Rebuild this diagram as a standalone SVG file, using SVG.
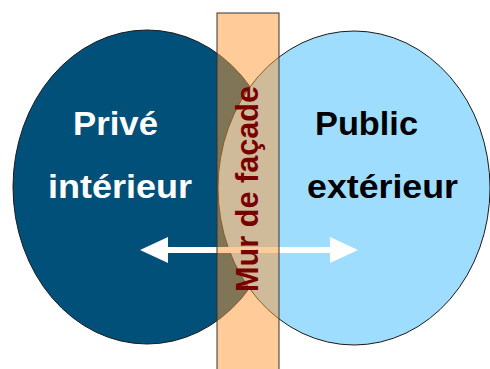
<svg xmlns="http://www.w3.org/2000/svg" width="490" height="369" viewBox="0 0 490 369">
  <style>
    .zone { stroke: #1a1a1a; stroke-width: 1; }
    .lbl { font-family: "Liberation Sans", Arial, sans-serif; font-weight: bold; font-size: 33px; }
    .arrow { fill: #FFFFFF; }
    .wall { fill: #FF9933; fill-opacity: 0.5; stroke: #333333; stroke-width: 1; }
  </style>
  <rect width="490" height="369" fill="#FFFFFF"/>
  <g id="prive">
    <ellipse class="zone" cx="147" cy="187" rx="134" ry="157" fill="#00507A"/>
  </g>
  <g id="public">
    <ellipse class="zone" cx="354" cy="188" rx="136" ry="157" fill="#9FDDFF"/>
  </g>
  <g id="connectors">
    <path class="arrow" d="M140,250 L168,237 L168,247 L330,247 L330,237 L358,250 L330,263 L330,253 L168,253 L168,263 Z"/>
  </g>
  <g id="mur">
    <rect class="wall" x="217" y="13" width="62" height="362"/>
    <text x="258" y="189" transform="rotate(-90 258 189)" text-anchor="middle" font-family="'Liberation Sans', Arial, sans-serif" font-weight="bold" font-size="31" fill="#7A0000" textLength="206" lengthAdjust="spacingAndGlyphs">Mur de façade</text>
  </g>
  <g id="prive-labels">
    <text class="lbl" x="73" y="135" fill="#FFFFFF" textLength="85" lengthAdjust="spacingAndGlyphs">Privé</text>
    <text class="lbl" x="48" y="198" fill="#FFFFFF" textLength="144" lengthAdjust="spacingAndGlyphs">intérieur</text>
  </g>
  <g id="public-labels">
    <text class="lbl" x="315" y="135" fill="#000000" textLength="103" lengthAdjust="spacingAndGlyphs">Public</text>
    <text class="lbl" x="307" y="198" fill="#000000" textLength="151" lengthAdjust="spacingAndGlyphs">extérieur</text>
  </g>
</svg>
